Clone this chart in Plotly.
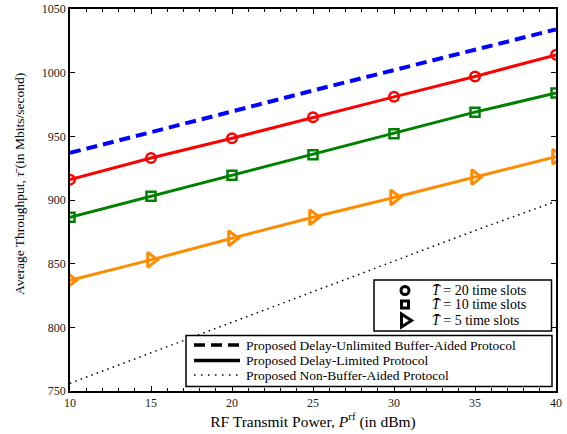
import plotly.graph_objects as go

# ---------------- data ----------------
power_dbm = [10, 15, 20, 25, 30, 35, 40]
thr_unlimited = [937, 953, 969.5, 986, 1002, 1018, 1034]
thr_t20 = [916, 933, 948.5, 965, 981, 997, 1014]
thr_t10 = [886.5, 903, 919.5, 935.5, 952, 969, 984]
thr_t5 = [837, 853, 870, 886.5, 902, 918, 934]
thr_nonbuffer = [756, 780, 804, 828, 852, 876, 899]

x_ticks = [10, 15, 20, 25, 30, 35, 40]
y_ticks = [750, 800, 850, 900, 950, 1000, 1050]

marker_labels = ["<i>T̄</i> = 20 time slots", "<i>T̄</i> = 10 time slots", "<i>T̄</i> = 5 time slots"]
line_labels = ["Proposed Delay-Unlimited Buffer-Aided Protocol",
               "Proposed Delay-Limited Protocol",
               "Proposed Non-Buffer-Aided Protocol"]

# ---------------- layout geometry (pixels) ----------------
W, H = 567, 434
ML, MR, MT, MB = 70, 11, 9, 43
PW, PH = W - ML - MR, H - MT - MB


def px_x(px):
    return (px - ML) / PW


def px_y(py):
    return (H - MB - py) / PH


FONT = "Liberation Serif"
fig = go.Figure()

fig.add_trace(go.Scatter(x=power_dbm, y=thr_unlimited, mode="lines",
                         line=dict(color="#0000FF", width=4, dash="11px,6px"), showlegend=False))
fig.add_trace(go.Scatter(x=power_dbm, y=thr_nonbuffer, mode="lines",
                         line=dict(color="black", width=1.5, dash="1.5px,4.2px"), showlegend=False))
fig.add_trace(go.Scatter(x=power_dbm, y=thr_t20, mode="lines+markers",
                         line=dict(color="#FF0000", width=3),
                         marker=dict(symbol="circle-open", size=9.5, line=dict(width=2.5, color="#FF0000")),
                         showlegend=False))
fig.add_trace(go.Scatter(x=power_dbm, y=thr_t10, mode="lines+markers",
                         line=dict(color="#008000", width=3),
                         marker=dict(symbol="square-open", size=9, line=dict(width=2.5, color="#008000")),
                         showlegend=False))
fig.add_trace(go.Scatter(x=power_dbm, y=thr_t5, mode="lines+markers",
                         line=dict(color="#FF8C00", width=3),
                         marker=dict(symbol="triangle-right-open", size=13, line=dict(width=3, color="#FF8C00")),
                         showlegend=False))

shapes = []
annotations = []

# ---- legend 1 (marker meaning) ----
shapes.append(dict(type="rect", xref="paper", yref="paper", layer="above",
                   x0=px_x(374), x1=px_x(551.5), y0=px_y(331), y1=px_y(280),
                   line=dict(color="black", width=1.5), fillcolor="white"))
leg1_rows = [290.5, 304.5, 320.5]
mx = px_x(405)
shapes.append(dict(type="circle", xref="paper", yref="paper", layer="above",
                   xsizemode="pixel", ysizemode="pixel", xanchor=mx, yanchor=px_y(leg1_rows[0]),
                   x0=-4, x1=4, y0=-4, y1=4, line=dict(color="black", width=3)))
shapes.append(dict(type="rect", xref="paper", yref="paper", layer="above",
                   xsizemode="pixel", ysizemode="pixel", xanchor=mx, yanchor=px_y(leg1_rows[1]),
                   x0=-3.5, x1=3.5, y0=-3.5, y1=3.5, line=dict(color="black", width=3)))
shapes.append(dict(type="path", xref="paper", yref="paper", layer="above",
                   xsizemode="pixel", ysizemode="pixel", xanchor=px_x(406), yanchor=px_y(leg1_rows[2]),
                   path="M -4.5 -6.5 L 5.5 0 L -4.5 6.5 Z", line=dict(color="black", width=3)))
for lab, row in zip(marker_labels, leg1_rows):
    annotations.append(dict(text=lab, xref="paper", yref="paper", x=px_x(430), y=px_y(row),
                            xanchor="left", yanchor="middle", showarrow=False,
                            font=dict(family=FONT, size=14, color="black")))

# ---- legend 2 (line style meaning) ----
shapes.append(dict(type="rect", xref="paper", yref="paper", layer="above",
                   x0=px_x(186), x1=px_x(552), y0=px_y(386.5), y1=px_y(335.5),
                   line=dict(color="black", width=1.5), fillcolor="white"))
leg2_rows = [345, 360.5, 375]
leg2_styles = [("11px,6px", 3.5), ("solid", 3.5), ("1.5px,5.5px", 1.5)]
for (dash, w), row in zip(leg2_styles, leg2_rows):
    shapes.append(dict(type="line", xref="paper", yref="paper", layer="above",
                       x0=px_x(194), x1=px_x(240), y0=px_y(row), y1=px_y(row),
                       line=dict(color="black", width=w, dash=dash)))
for lab, row in zip(line_labels, leg2_rows):
    annotations.append(dict(text=lab, xref="paper", yref="paper", x=px_x(244), y=px_y(row),
                            xanchor="left", yanchor="middle", showarrow=False,
                            font=dict(family=FONT, size=13.5, color="black")))

# ---- y axis title ----
annotations.append(dict(text="Average Throughput, <i>τ̄</i> (in Mbits/second)", xref="paper", yref="paper",
                        x=px_x(20), y=px_y(184), textangle=-90, showarrow=False,
                        xanchor="center", yanchor="middle",
                        font=dict(family=FONT, size=13.5, color="black")))

axis_common = dict(showline=True, linecolor="black", linewidth=1.5, mirror="allticks",
                   ticks="inside", tickcolor="black", ticklen=5, showgrid=False, zeroline=False,
                   tickfont=dict(family=FONT, size=12, color="#222"))

fig.update_layout(
    width=W, height=H,
    margin=dict(l=ML, r=MR, t=MT, b=MB, autoexpand=False),
    paper_bgcolor="white", plot_bgcolor="white",
    font=dict(family=FONT, color="black"),
    showlegend=False,
    xaxis=dict(range=[10, 40], tickvals=x_ticks,
               minor=dict(dtick=1, ticks="inside", ticklen=3, tickcolor="black"),
               title=dict(text="RF Transmit Power, <i>P</i><sup>rf</sup> (in dBm)",
                          font=dict(size=15.5), standoff=5),
               **axis_common),
    xaxis2=dict(range=[10, 40], tickvals=x_ticks, overlaying="x", side="top", matches="x",
                showticklabels=False, ticks="inside", ticklen=5, tickcolor="black",
                minor=dict(dtick=1, ticks="inside", ticklen=3, tickcolor="black"),
                showgrid=False, zeroline=False, showline=False),
    yaxis=dict(range=[750, 1050], tickvals=y_ticks, **axis_common),
    shapes=shapes,
    annotations=annotations,
)

fig.write_html("out.html", config={"displayModeBar": False},
               post_script="document.body.style.margin='0';")
